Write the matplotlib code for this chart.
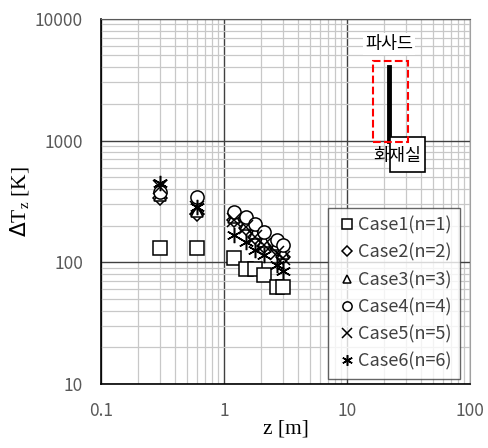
import matplotlib.pyplot as plt
from matplotlib.patches import Rectangle

plt.rcParams['font.family'] = ['Noto Sans CJK KR', 'DejaVu Sans']

# z positions [m]
z = [0.3, 0.6, 1.2, 1.5, 1.8, 2.1, 2.7, 3.0]

# temperature rise for each case [K]
case1 = [131, 131, 108, 88, 88, 79, 62, 63]
case2 = [337, 250, 222, 190, 160, 137, 128, 110]
case3 = [360, 265, 235, 205, 175, 150, 140, 120]
case4 = [378, 344, 260, 237, 205, 176, 152, 139]
case5 = [416, 280, 222, 196, 162, 139, 118, 108]
case6 = [449, 285, 168, 148, 126, 115, 94, 84]

labels = ['Case1(n=1)', 'Case2(n=2)', 'Case3(n=3)',
          'Case4(n=4)', 'Case5(n=5)', 'Case6(n=6)']
markers = ['s', 'D', '^', 'o', 'x', (6, 2, 0)]
series = [case1, case2, case3, case4, case5, case6]

# facade / fire room marker
z_bar = 22
bar_lo, bar_hi = 1000, 4000

fig = plt.figure(figsize=(4.89, 4.48), dpi=100)
ax = fig.add_axes([0.2065, 0.143, 0.7545, 0.815])
ax.set_xscale('log')
ax.set_yscale('log')
ax.set_xlim(0.1, 100)
ax.set_ylim(10, 10000)

ax.grid(True, which='minor', color='#c8c8c8', lw=0.9)
ax.grid(True, which='major', color='#404040', lw=1.0)
ax.set_axisbelow(True)

sizes = [9.5, 7, 8.5, 9.5, 9.5, 11]
for s, m, lab, ms in zip(series, markers, labels, sizes):
    ax.plot(z, s, ls='none', marker=m, ms=ms, mfc='white', mec='black',
            mew=1.1, label=lab)

ax.plot([z_bar, z_bar], [bar_lo, bar_hi], color='black', lw=3.5, zorder=5)
ax.add_patch(Rectangle((22.4, 552), 43 - 22.4, 1072 - 552, fc='white',
                       ec='black', lw=1.2, zorder=6))
ax.add_patch(Rectangle((16.3, 980), 31.3 - 16.3, 4540 - 980, fill=False,
                       ec='red', ls='--', lw=1.5, zorder=7))
ax.text(z_bar, 6200, '파사드', ha='center', va='center', fontsize=12.5,
        color='black', bbox=dict(fc='white', ec='none', pad=1.5), zorder=7)
ax.text(25.5, 740, '화재실', ha='center', va='center', fontsize=12.5,
        color='black', zorder=8)

for sp in ['left', 'bottom']:
    ax.spines[sp].set_color('black')
    ax.spines[sp].set_linewidth(1.2)
ax.spines['top'].set_color('#595959')
ax.spines['right'].set_color('#a0a0a0')

ax.tick_params(which='both', length=0, labelsize=12.5, labelcolor='#595959')
ax.tick_params(axis='x', pad=13)
ax.tick_params(axis='y', pad=13)
ax.set_xticks([0.1, 1, 10, 100])
ax.set_xticklabels(['0.1', '1', '10', '100'])
ax.set_yticks([10, 100, 1000, 10000])
ax.set_yticklabels(['10', '100', '1000', '10000'])

ax.set_xlabel('z [m]', family='Liberation Serif', fontsize=15.5, labelpad=0)
ax.set_ylabel(r'$\Delta$T$_\mathregular{z}$ [K]', family='Liberation Serif',
              fontsize=15.5, labelpad=2)

leg = ax.legend(loc='lower right', bbox_to_anchor=(0.972, 0.014), fontsize=13,
                frameon=True, fancybox=False, edgecolor='#404040',
                handletextpad=0.0, handlelength=1.2, labelspacing=0.5,
                borderpad=0.45, borderaxespad=0, markerscale=0.7)
leg.get_frame().set_linewidth(1.0)
for t in leg.get_texts():
    t.set_color('#404040')

fig.savefig('out.png', dpi=100)
